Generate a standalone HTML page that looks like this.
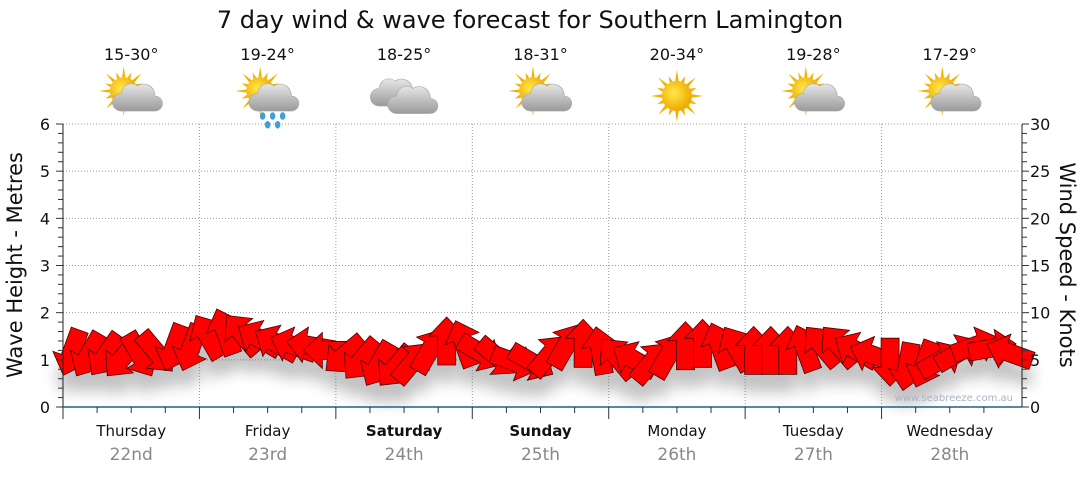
<!DOCTYPE html>
<html><head><meta charset="utf-8"><style>
html,body{margin:0;padding:0;background:#fff;}
body{width:1080px;height:475px;overflow:hidden;font-family:"Liberation Sans",sans-serif;}
</style></head><body>
<svg id="chart" width="1080" height="475" xmlns="http://www.w3.org/2000/svg" font-family="DejaVu Sans, Liberation Sans, sans-serif">
<defs>
<filter id="shadow" x="-20%" y="-50%" width="140%" height="250%"><feGaussianBlur stdDeviation="7"/></filter>
<radialGradient id="sunG" cx="0.4" cy="0.4" r="0.6"><stop offset="0" stop-color="#ffe94a"/><stop offset="1" stop-color="#f0a800"/></radialGradient>
<linearGradient id="cloudG" x1="0" y1="0" x2="0" y2="1"><stop offset="0" stop-color="#e6e6e6"/><stop offset="1" stop-color="#9a9a9a"/></linearGradient>
</defs>
<text x="530" y="28" text-anchor="middle" font-size="24" fill="#111">7 day wind &amp; wave forecast for Southern Lamington</text>
<g id="grid"></g>
<g id="icons"></g>
<g id="shadowLayer" filter="url(#shadow)" opacity="0.35"></g>
<g id="arrows"></g>
<g id="axes"></g>
<text x="1013" y="401" text-anchor="end" font-size="10" fill="#a8b4c8">www.seabreeze.com.au</text>
<text transform="translate(22,265) rotate(-90)" text-anchor="middle" font-size="21" fill="#111">Wave Height - Metres</text>
<text transform="translate(1060,265) rotate(90)" text-anchor="middle" font-size="21" fill="#111">Wind Speed - Knots</text>
</svg>
<script>
const days = ["Thursday","Friday","Saturday","Sunday","Monday","Tuesday","Wednesday"];
const dates = ["22nd","23rd","24th","25th","26th","27th","28th"];
const boldDays = [false,false,true,true,false,false,false];
const temps = ["15-30°","19-24°","18-25°","18-31°","20-34°","19-28°","17-29°"];
const icons = ["partly","rain","cloudy","partly","sunny","partly","partly"];
const waveHeights = [1.15,1.1,1.1,1.05,1.1,1.15,1.25,1.25,
 1.5,1.6,1.55,1.45,1.35,1.3,1.3,1.2,
 1.1,1.0,0.9,0.85,0.95,1.2,1.4,1.35,
 1.15,1.05,0.95,0.95,1.1,1.3,1.35,1.2,
 1.05,1.0,0.95,1.1,1.3,1.35,1.3,1.25,
 1.2,1.2,1.2,1.25,1.3,1.3,1.2,1.1,
 0.95,0.85,0.9,1.0,1.15,1.3,1.25,1.15];
const windDirs = [200,210,215,220,150,140,200,200,
 330,340,320,300,300,290,280,270,
 230,220,210,220,40,30,0,340,
 120,130,110,120,40,30,0,350,
 320,300,40,30,0,0,340,330,
 0,0,0,340,320,320,300,290,
 180,190,200,60,60,70,80,290];
const leftTicks = [0,1,2,3,4,5,6];
const rightTicks = [0,5,10,15,20,25,30];

const NS="http://www.w3.org/2000/svg";
const X0=63, X1=1018, Y0=407, Y6=124;
const dayW=(X1-X0)/7;
function yM(m){return Y0-(Y0-Y6)*m/6;}
function yK(k){return Y0-(Y0-Y6)*k/30;}
function xT(i){return X0+dayW*(i+0.5)/8;}
function mk(tag,attrs,parent){const e=document.createElementNS(NS,tag);for(const k in attrs)e.setAttribute(k,attrs[k]);parent.appendChild(e);return e;}
const grid=document.getElementById('grid'),axes=document.getElementById('axes'),ic=document.getElementById('icons');
const arrows=document.getElementById('arrows'),sh=document.getElementById('shadowLayer');

leftTicks.forEach(t=>{
 if(t>0){const l=mk('line',{x1:X0,x2:X1,y1:yM(t),y2:yM(t),stroke:'#999','stroke-dasharray':'1,2'},grid);
 
 }
 const tx=mk('text',{x:50,y:yM(t)+6,'text-anchor':'end','font-size':16,fill:'#111'},axes);tx.textContent=t;
 
 
});
for(let i=0;i<=30;i++){const y=yM(i/5);mk('line',{x1:X0-(i%5?5:7),x2:X0,y1:y,y2:y,stroke:'#333'},axes);}
rightTicks.forEach(t=>{
 const tx=mk('text',{x:1030,y:yK(t)+6,'font-size':16,fill:'#111'},axes);tx.textContent=t;
 
 
});
for(let i=0;i<=30;i++){const y=yK(i);mk('line',{x1:X1+4,x2:X1+(i%5?9:11),y1:y,y2:y,stroke:'#333'},axes);}
mk('line',{x1:X0,x2:X0,y1:Y6,y2:Y0,stroke:'#222'},axes);
mk('line',{x1:X1+4,x2:X1+4,y1:Y6,y2:Y0,stroke:'#222'},axes);
mk('line',{x1:X0,x2:X1+4,y1:Y0,y2:Y0,stroke:'#1f5f8b','stroke-width':1.5},axes);
for(let d=0;d<7;d++){
 const xs=X0+dayW*d;
 if(d>0){const l=mk('line',{x1:xs,x2:xs,y1:Y6,y2:Y0,stroke:'#999','stroke-dasharray':'1,2'},grid);
 
 }
 for(let q=0;q<4;q++){const x=xs+dayW*q/4;mk('line',{x1:x,x2:x,y1:Y0,y2:Y0+(q?6:12),stroke:'#333'},axes);}
 const cx=xs+dayW/2;
 const dl=mk('text',{x:cx,y:436,'text-anchor':'middle','font-size':15,fill:'#111','font-weight':boldDays[d]?'bold':'normal'},axes);dl.textContent=days[d];
 
 
 const dt=mk('text',{x:cx,y:460,'text-anchor':'middle','font-size':17,fill:'#888'},axes);dt.textContent=dates[d];
 
 
 const tp=mk('text',{x:cx,y:60,'text-anchor':'middle','font-size':16,fill:'#111'},ic);tp.textContent=temps[d];
 
 
 const g=mk('g',{transform:`translate(${cx},96) scale(1.25)`},ic);
 
 
 const t=icons[d];
 if(t!=='cloudy'){
  const sx=t==='sunny'?0:-6, sy=t==='sunny'?0:-4, r=t==='sunny'?12:11;
  for(let a=0;a<16;a++){const an=a*Math.PI/8,L=a%2?r+5:r+9;
   mk('polygon',{points:`${sx+Math.cos(an-0.12)*r},${sy+Math.sin(an-0.12)*r} ${sx+Math.cos(an)*L},${sy+Math.sin(an)*L} ${sx+Math.cos(an+0.12)*r},${sy+Math.sin(an+0.12)*r}`,fill:'#f2b400'},g);}
  mk('circle',{cx:sx,cy:sy,r:r,fill:'url(#sunG)'},g);
 }
 if(t!=='sunny'){
  const cl=(ox,oy,s)=>{const c=mk('g',{transform:`translate(${ox},${oy}) scale(${s})`},g);
   mk('path',{d:'M-12,10 a7,7 0 0 1 0,-14 a8,8 0 0 1 13,-6 a9,9 0 0 1 14,8 a6,6 0 0 1 0,12 z',fill:'url(#cloudG)',stroke:'#aaa','stroke-width':0.5},c);};
  if(t==='cloudy'){cl(-8,-2,1);cl(6,4,1);}
  else cl(4,2,1);
  if(t==='rain'){[[-4,16],[4,16],[12,16],[0,23],[8,23]].forEach(p=>mk('ellipse',{cx:p[0],cy:p[1],rx:2.2,ry:3,fill:'#3aa0e0'},g));}
 }
}
const arrowPath='M0,-24 L18,-5 L9,-5 L9,24 L-9,24 L-9,-5 L-18,-5 Z';
waveHeights.forEach((h,i)=>{
 const x=xT(i),y=yM(h);
 const s=mk('path',{d:arrowPath,transform:`translate(${x},${y+18}) rotate(${windDirs[i]})`,fill:'#555'},sh);
 
 
});
waveHeights.forEach((h,i)=>{
 const x=xT(i),y=yM(h);
 const a=mk('path',{d:arrowPath,transform:`translate(${x},${y}) rotate(${windDirs[i]})`,fill:'#ff0000',stroke:'#4a0000','stroke-width':0.8},arrows);
 
 
});
</script>
</body></html>
